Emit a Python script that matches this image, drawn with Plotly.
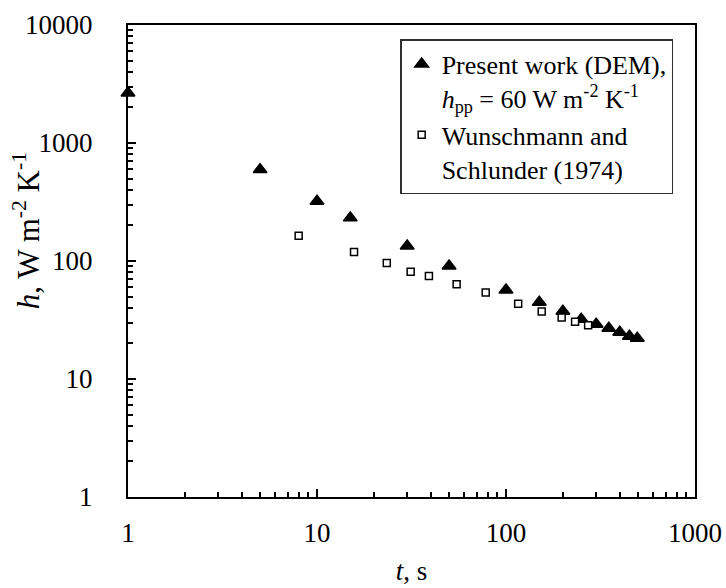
import plotly.graph_objects as go

# Present work (DEM)
dem_t = [1, 5, 10, 15, 30, 50, 100, 150, 200, 250, 300, 350, 400, 450, 495]
dem_h = [2650, 595, 321, 232, 134, 90.6, 56.8, 44.7, 37.5, 32.1, 29.1, 26.9, 24.9, 23.0, 22.2]

# Wunschmann and Schlunder (1974)
ws_t = [8, 15.7, 23.4, 31.3, 39.1, 54.8, 78.1, 116, 154.5, 197, 232, 272]
ws_h = [164, 119, 96, 81, 74.5, 63.4, 54, 43.5, 37.3, 33.2, 30.5, 28.6]

x_tickvals = [1, 10, 100, 1000]
x_ticktext = ["1", "10", "100", "1000"]
y_tickvals = [1, 10, 100, 1000, 10000]
y_ticktext = ["1", "10", "100", "1000", "10000"]

FONT = "Liberation Serif, Times New Roman, Times, serif"

fig = go.Figure()
fig.add_trace(go.Scatter(
    x=dem_t, y=dem_h, mode="markers",
    name="Present work (DEM),<br><i>h</i><sub>pp</sub> = 60 W m<sup>-2</sup> K<sup>-1</sup>",
    marker=dict(symbol="triangle-up", size=12, color="black",
                line=dict(color="black", width=1.5)),
    cliponaxis=False,
))
fig.add_trace(go.Scatter(
    x=ws_t, y=ws_h, mode="markers",
    name="Wunschmann and<br>Schlunder (1974)",
    marker=dict(symbol="square", size=7, color="white",
                line=dict(color="black", width=1.5)),
    cliponaxis=False,
))

axis_common = dict(
    type="log", showline=True, mirror=True, linecolor="black", linewidth=2,
    ticks="inside", ticklen=8, tickwidth=2, tickcolor="black",
    showgrid=False, zeroline=False, automargin=False,
    tickfont=dict(family=FONT, size=27, color="black"),
    minor=dict(ticks="inside", ticklen=5, tickwidth=1.5, tickcolor="black",
               dtick="D1", showgrid=False),
)

fig.update_xaxes(**axis_common, range=[0, 3], tickmode="array",
                 tickvals=x_tickvals, ticktext=x_ticktext, ticklabelstandoff=11,
                 title=dict(text="<i>t</i>, s", font=dict(family=FONT, size=27, color="black"),
                            standoff=14))
fig.update_yaxes(**axis_common, range=[0, 4], tickmode="array",
                 tickvals=y_tickvals, ticktext=y_ticktext, ticklabelstandoff=28)

fig.add_annotation(
    text="<i>h</i>, W m<sup>-2</sup> K<sup>-1</sup>",
    xref="paper", yref="paper", x=-0.18, y=0.565, xanchor="center", yanchor="middle",
    textangle=-90, showarrow=False,
    font=dict(family=FONT, size=31, color="black"),
)

fig.update_layout(
    width=726, height=588,
    margin=dict(l=128, r=31, t=25, b=91),
    paper_bgcolor="white", plot_bgcolor="white",
    font=dict(family=FONT, color="black"),
    showlegend=True,
    legend=dict(x=0.48, y=0.97, xanchor="left", yanchor="top",
                bgcolor="white", bordercolor="#303030", borderwidth=1.5,
                font=dict(family=FONT, size=26, color="black"),
                valign="top", tracegroupgap=10),
)

fig.write_html("out.html")
